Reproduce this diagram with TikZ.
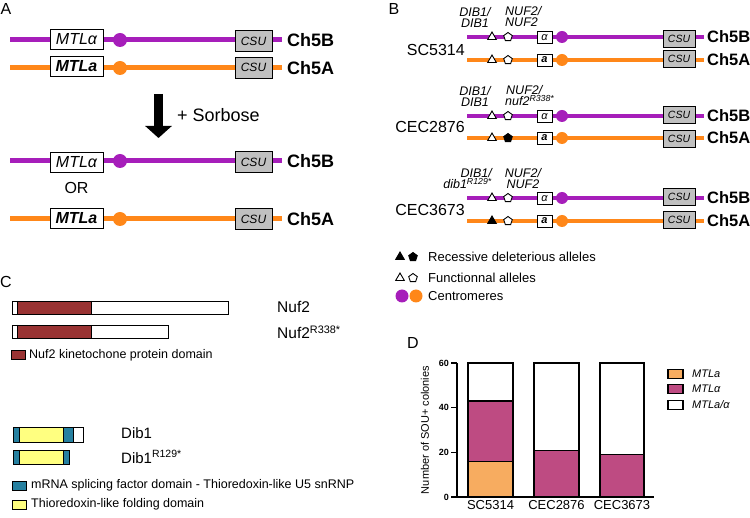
\documentclass[tikz,border=0pt]{standalone}
\usepackage{fontspec}
\setmainfont{Liberation Sans}
\usetikzlibrary{positioning, shapes.geometric, arrows.meta}
\definecolor{purp}{RGB}{166,30,186}
\definecolor{orng}{RGB}{255,135,25}
\definecolor{csugray}{RGB}{192,192,192}
\definecolor{nufbrown}{RGB}{153,51,51}
\definecolor{dibteal}{RGB}{38,128,160}
\definecolor{dibyellow}{RGB}{255,255,128}
\definecolor{barorng}{RGB}{247,172,96}
\definecolor{barmag}{RGB}{190,75,130}

\tikzset{
  panel/.style={font=\fontsize{16}{16}\selectfont, inner sep=0pt},
  chrB/.style={purp, line width=5pt},
  chrA/.style={orng, line width=5pt},
  chrBs/.style={purp, line width=4pt},
  chrAs/.style={orng, line width=4pt},
  mtlbox/.style={draw, fill=white, line width=0.9pt, minimum width=53pt, minimum height=20pt, inner sep=0pt, font=\fontsize{16}{16}\selectfont\itshape},
  csubox/.style={draw, fill=csugray, line width=0.9pt, minimum width=37pt, minimum height=21pt, inner sep=0pt, font=\fontsize{12}{12}\selectfont\itshape},
  mtlsmall/.style={draw, fill=white, line width=0.9pt, minimum width=15pt, minimum height=12pt, inner sep=0pt, font=\fontsize{11}{11}\selectfont\itshape},
  csusmall/.style={draw, fill=csugray, line width=0.9pt, minimum width=32pt, minimum height=17pt, inner sep=0pt, font=\fontsize{10.5}{10.5}\selectfont\itshape},
  chrlab/.style={anchor=west, inner xsep=5pt, inner ysep=0pt, font=\fontsize{18}{18}\selectfont\bfseries},
  chrlabs/.style={anchor=west, inner xsep=3pt, inner ysep=0pt, font=\fontsize{16.5}{16.5}\selectfont\bfseries},
  cenB/.style={circle, fill=purp, minimum size=14pt, inner sep=0pt},
  cenA/.style={circle, fill=orng, minimum size=14pt, inner sep=0pt},
  cenBs/.style={circle, fill=purp, minimum size=12pt, inner sep=0pt},
  cenAs/.style={circle, fill=orng, minimum size=12pt, inner sep=0pt},
  tri/.style={regular polygon, regular polygon sides=3, draw, fill=white, line width=0.9pt, minimum size=10pt, inner sep=0pt},
  penta/.style={regular polygon, regular polygon sides=5, draw, fill=white, line width=0.9pt, minimum size=9pt, inner sep=0pt},
  strain/.style={anchor=east, inner sep=0pt, font=\fontsize{16}{16}\selectfont},
  genelab/.style={inner sep=0pt, font=\fontsize{12.5}{11}\selectfont\itshape},
  txt/.style={anchor=west, inner sep=0pt, font=\fontsize{13}{13}\selectfont},
  prot/.style={anchor=west, inner sep=0pt, font=\fontsize{15.5}{15.5}\selectfont},
  tick/.style={anchor=east, inner sep=0pt, font=\fontsize{9}{9}\selectfont\bfseries},
  bar/.style={draw=black, line width=1.1pt}
}

\begin{document}
\begin{tikzpicture}[x=1pt, y=-1pt]
    \useasboundingbox (0,0) rectangle (750,518);

    %% ---------- A ----------
    \node[panel] (labA) at (6,9) {A};
    % Ch5B before
    \node[chrlab] (chA1) at (282,40) {Ch5B};
    \draw[chrB] (10,40) -- (chA1.west);
    \node[mtlbox] (mtlA1) at (76.5,39) {MTLα};
    \node[cenB] (cenA1) at (120,40) {};
    \node[csubox] (csuA1) at (253.5,41) {CSU};
    % Ch5A before
    \node[chrlab] (chA2) at (282,68) {Ch5A};
    \draw[chrA] (10,68) -- (chA2.west);
    \node[mtlbox, font=\fontsize{16}{16}\selectfont\bfseries\itshape] (mtlA2) at (76.5,66.5) {MTLa};
    \node[cenA] (cenA2) at (120,68) {};
    \node[csubox] (csuA2) at (253.5,67.5) {CSU};
    % arrow + sorbose
    \coordinate (arrTop) at (158.5,94);
    \coordinate (arrBot) at (158.5,138);
    \draw[-{Triangle[width=26pt, length=12pt]}, line width=9pt] (arrTop) -- (arrBot);
    \node[anchor=west, inner sep=0pt, font=\fontsize{18}{18}\selectfont] (sorb) at (177,115) {+ Sorbose};
    % Ch5B after
    \node[chrlab] (chA3) at (282,161) {Ch5B};
    \draw[chrB] (10,161) -- (chA3.west);
    \node[mtlbox] (mtlA3) at (76.5,162) {MTLα};
    \node[cenB] (cenA3) at (120,161) {};
    \node[csubox] (csuA3) at (253.5,162) {CSU};
    \node[panel] (orA) at (76.5,188) {OR};
    % Ch5A after
    \node[chrlab] (chA4) at (282,219) {Ch5A};
    \draw[chrA] (10,219) -- (chA4.west);
    \node[mtlbox, font=\fontsize{16}{16}\selectfont\bfseries\itshape] (mtlA4) at (76.5,218.5) {MTLa};
    \node[cenA] (cenA4) at (120,219) {};
    \node[csubox] (csuA4) at (253.5,219) {CSU};

    %% ---------- B ----------
    \node[panel] (labB) at (394,9) {B};
    % SC5314
    \node[genelab, align=center] (dibB1) at (475,17) {DIB1/\\DIB1};
    \node[genelab, align=left, anchor=west] (nufB1) at (505,17) {NUF2/\\NUF2};
    \node[strain] (strB1) at (465,50) {SC5314};
    \node[chrlabs] (chB1) at (704,37) {Ch5B};
    \draw[chrBs] (467,37) -- (chB1.west);
    \node[tri] (triB1) at (492,37) {};
    \node[penta] (penB1) at (508,37) {};
    \node[mtlsmall] (mtlB1) at (544.5,37.5) {α};
    \node[cenBs] (cenB1) at (562,37) {};
    \node[csusmall] (csuB1) at (679,38.5) {CSU};
    \node[chrlabs] (chB2) at (704,60) {Ch5A};
    \draw[chrAs] (467,60) -- (chB2.west);
    \node[tri] (triB2) at (492,60) {};
    \node[penta] (penB2) at (508,60) {};
    \node[mtlsmall, font=\fontsize{11}{11}\selectfont\bfseries\itshape] (mtlB2) at (544.5,60) {a};
    \node[cenAs] (cenB2) at (562,60) {};
    \node[csusmall] (csuB2) at (679,59) {CSU};
    % CEC2876
    \node[genelab, align=center] (dibB2) at (475,96) {DIB1/\\DIB1};
    \node[genelab, align=left, anchor=west] (nufB2) at (505,96) {\hspace*{1pt}NUF2/\\nuf2\textsuperscript{R338*}};
    \node[strain] (strB2) at (465,127) {CEC2876};
    \node[chrlabs] (chB3) at (704,116) {Ch5B};
    \draw[chrBs] (467,116) -- (chB3.west);
    \node[tri] (triB3) at (492,116) {};
    \node[penta] (penB3) at (508,116) {};
    \node[mtlsmall] (mtlB3) at (544.5,116.5) {α};
    \node[cenBs] (cenB3) at (562,116) {};
    \node[csusmall] (csuB3) at (679,115) {CSU};
    \node[chrlabs] (chB4) at (704,138) {Ch5A};
    \draw[chrAs] (467,138) -- (chB4.west);
    \node[tri] (triB4) at (492,138) {};
    \node[penta, fill=black] (penB4) at (508,138) {};
    \node[mtlsmall, font=\fontsize{11}{11}\selectfont\bfseries\itshape] (mtlB4) at (544.5,138) {a};
    \node[cenAs] (cenB4) at (562,138) {};
    \node[csusmall] (csuB4) at (679,139) {CSU};
    % CEC3673
    \node[genelab, align=right, anchor=east] (dibB3) at (492,179) {DIB1/\\dib1\textsuperscript{R129*}};
    \node[genelab, align=center] (nufB3) at (523,179) {NUF2/\\NUF2};
    \node[strain] (strB3) at (465,210) {CEC3673};
    \node[chrlabs] (chB5) at (704,198) {Ch5B};
    \draw[chrBs] (467,198) -- (chB5.west);
    \node[tri] (triB5) at (492,198) {};
    \node[penta] (penB5) at (508,198) {};
    \node[mtlsmall] (mtlB5) at (544.5,198.5) {α};
    \node[cenBs] (cenB5) at (562,198) {};
    \node[csusmall] (csuB5) at (679,197) {CSU};
    \node[chrlabs] (chB6) at (704,221) {Ch5A};
    \draw[chrAs] (467,221) -- (chB6.west);
    \node[tri, fill=black] (triB6) at (492,221) {};
    \node[penta] (penB6) at (508,221) {};
    \node[mtlsmall, font=\fontsize{11}{11}\selectfont\bfseries\itshape] (mtlB6) at (544.5,221) {a};
    \node[cenAs] (cenB6) at (562,221) {};
    \node[csusmall] (csuB6) at (679,220) {CSU};
    % legend B
    \node[tri, fill=black] (legTri1) at (400,257) {};
    \node[penta, fill=black] (legPen1) at (413,257) {};
    \node[txt] (legB1) at (428,257) {Recessive deleterious alleles};
    \node[tri] (legTri2) at (400,278) {};
    \node[penta] (legPen2) at (413,278) {};
    \node[txt] (legB2) at (428,278) {Functionnal alleles};
    \node[cenBs, minimum size=13pt] (legCen1) at (402,296) {};
    \node[cenAs, minimum size=13pt] (legCen2) at (416,296) {};
    \node[txt] (legB3) at (428,296) {Centromeres};

    %% ---------- C ----------
    \node[panel] (labC) at (6,282) {C};
    % Nuf2
    \fill[nufbrown] (17,301) rectangle (91,314);
    \draw[line width=0.9pt] (17,301) -- (17,314) (91,301) -- (91,314);
    \draw[line width=0.9pt] (12,301) rectangle (228,314);
    \node[prot] (nufC1) at (277,307) {Nuf2};
    % Nuf2 R338*
    \fill[nufbrown] (17,325) rectangle (91,338);
    \draw[line width=0.9pt] (17,325) -- (17,338) (91,325) -- (91,338);
    \draw[line width=0.9pt] (12,325) rectangle (168,338);
    \node[prot] (nufC2) at (277,332) {Nuf2\textsuperscript{R338*}};
    % legend Nuf2
    \filldraw[fill=nufbrown, line width=0.9pt] (11,350) rectangle (25,359);
    \node[txt, font=\fontsize{12.5}{12.5}\selectfont] (legC1) at (29,355) {Nuf2 kinetochone protein domain};
    % Dib1
    \fill[dibteal] (13,427) rectangle (19,442);
    \fill[dibyellow] (19,427) rectangle (63,442);
    \fill[dibteal] (63,427) rectangle (73,442);
    \draw[line width=0.9pt] (19,427) -- (19,442) (63,427) -- (63,442) (73,427) -- (73,442);
    \draw[line width=0.9pt] (13,427) rectangle (83,442);
    \node[prot, font=\fontsize{15}{15}\selectfont] (dibC1) at (121,433) {Dib1};
    % Dib1 R129*
    \fill[dibteal] (13,450) rectangle (19,464);
    \fill[dibyellow] (19,450) rectangle (63,464);
    \fill[dibteal] (63,450) rectangle (69,464);
    \draw[line width=0.9pt] (19,450) -- (19,464) (63,450) -- (63,464);
    \draw[line width=0.9pt] (13,450) rectangle (69,464);
    \node[prot, font=\fontsize{15}{15}\selectfont] (dibC2) at (121,457) {Dib1\textsuperscript{R129*}};
    % legend Dib1
    \filldraw[fill=dibteal, line width=0.9pt] (12,481) rectangle (26,490);
    \node[txt, font=\fontsize{12.5}{12.5}\selectfont] (legC2) at (31,485) {mRNA splicing factor domain - Thioredoxin-like U5 snRNP};
    \filldraw[fill=dibyellow, line width=0.9pt] (12,500) rectangle (26,509);
    \node[txt, font=\fontsize{12.5}{12.5}\selectfont] (legC3) at (31,504) {Thioredoxin-like folding domain};

    %% ---------- D ----------
    \node[panel] (labD) at (413,343) {D};
    % bars (0 -> 497, 60 -> 363)
    \filldraw[bar, fill=barorng] (468,497) rectangle (513,461.3);
    \filldraw[bar, fill=barmag] (468,461.3) rectangle (513,401);
    \filldraw[bar, fill=white] (468,401) rectangle (513,363);
    \filldraw[bar, fill=barmag] (534,497) rectangle (579,450.1);
    \filldraw[bar, fill=white] (534,450.1) rectangle (579,363);
    \filldraw[bar, fill=barmag] (600,497) rectangle (644,454.6);
    \filldraw[bar, fill=white] (600,454.6) rectangle (644,363);
    % axes
    \draw[line width=1.4pt] (457,363) -- (457,497) -- (654,497);
    \draw[line width=1.4pt] (451,363) -- (457,363) (451,407.7) -- (457,407.7) (451,452.3) -- (457,452.3) (451,497) -- (457,497);
    \node[tick] (t60) at (449,363) {60};
    \node[tick] (t40) at (449,407.7) {40};
    \node[tick] (t20) at (449,452.3) {20};
    \node[tick] (t0) at (449,497) {0};
    \node[rotate=90, inner sep=0pt, font=\fontsize{11}{11}\selectfont] (ylab) at (425,430) {Number of SOU+ colonies};
    \node[inner sep=0pt, font=\fontsize{13}{13}\selectfont] (xSC) at (490.5,505) {SC5314};
    \node[inner sep=0pt, font=\fontsize{13}{13}\selectfont] (xC28) at (556.5,505) {CEC2876};
    \node[inner sep=0pt, font=\fontsize{13}{13}\selectfont] (xC36) at (622,505) {CEC3673};
    % legend D
    \filldraw[bar, fill=barorng] (668,369.5) rectangle (683,378.5);
    \node[txt, font=\fontsize{11}{11}\selectfont\itshape] (legD1) at (692,374) {MTLa};
    \filldraw[bar, fill=barmag] (668,384.5) rectangle (683,393.5);
    \node[txt, font=\fontsize{11}{11}\selectfont\itshape] (legD2) at (692,389) {MTLα};
    \filldraw[bar, fill=white] (668,400.5) rectangle (683,409.5);
    \node[txt, font=\fontsize{11}{11}\selectfont\itshape] (legD3) at (692,405) {MTLa/α};
\end{tikzpicture}
\end{document}
